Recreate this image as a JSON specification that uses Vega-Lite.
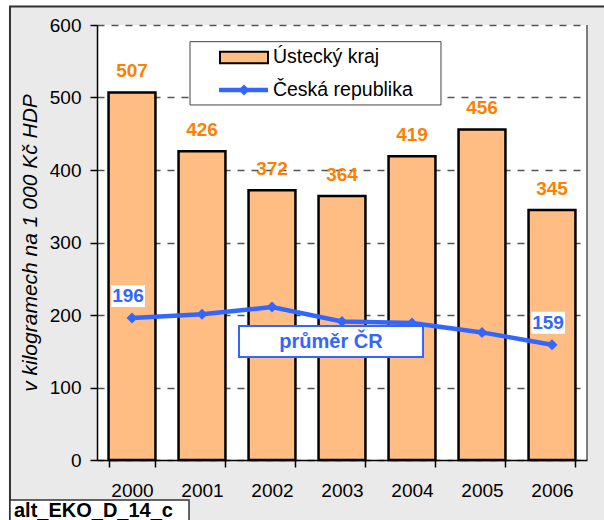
{
  "$schema": "https://vega.github.io/schema/vega-lite/v6.json",
  "width": 490,
  "height": 435,
  "autosize": {"type": "none"},
  "padding": {"left": 97, "top": 25, "right": 17, "bottom": 60},
  "background": "#EAEAEA",
  "config": {
    "font": "Liberation Sans",
    "view": {"fill": "white", "stroke": null},
    "axisY": {
      "titleFontStyle": "italic", "titleFontWeight": "normal",
      "titleFontSize": 21, "titleColor": "black", "titlePadding": 9,
      "grid": true, "gridDash": [7, 7], "gridColor": "#555555", "gridWidth": 1.3,
      "domainColor": "black", "domainWidth": 1.5,
      "tickColor": "black", "tickSize": 7, "tickWidth": 1.5,
      "labelFontSize": 19, "labelColor": "black", "labelPadding": 9
    },
    "axisX": {
      "labelAngle": 0, "domainColor": "black", "domainWidth": 1.5,
      "tickColor": "black", "tickSize": 7, "tickWidth": 1.5,
      "labelFontSize": 19, "labelColor": "black", "labelPadding": 14, "grid": false
    }
  },
  "datasets": {
    "main": [
      {"year": "2000", "kraj": 507, "cr": 196},
      {"year": "2001", "kraj": 426, "cr": 201},
      {"year": "2002", "kraj": 372, "cr": 211},
      {"year": "2003", "kraj": 364, "cr": 191},
      {"year": "2004", "kraj": 419, "cr": 189},
      {"year": "2005", "kraj": 456, "cr": 176},
      {"year": "2006", "kraj": 345, "cr": 159}
    ]
  },
  "resolve": {"scale": {"x": "independent"}},
  "layer": [
    {
      "data": {"name": "main"},
      "encoding": {
        "x": {
          "field": "year", "type": "ordinal", "title": null,
          "scale": {"paddingInner": 0.33, "paddingOuter": 0.165},
          "axis": {"tickBand": "extent"}
        }
      },
      "layer": [
        {
          "mark": {"type": "bar", "fill": "#FFBD84", "stroke": "black", "strokeWidth": 2.5},
          "encoding": {
            "y": {
              "field": "kraj", "type": "quantitative",
              "title": "v kilogramech na 1 000 Kč HDP",
              "scale": {"domain": [0, 600], "nice": false},
              "axis": {"values": [0, 100, 200, 300, 400, 500, 600]}
            }
          }
        },
        {
          "mark": {
            "type": "line", "color": "#3366FF", "strokeWidth": 4.5,
            "point": {"shape": "diamond", "size": 120, "filled": true, "color": "#3366FF"}
          },
          "encoding": {"y": {"field": "cr", "type": "quantitative", "title": "v kilogramech na 1 000 Kč HDP"}}
        },
        {
          "mark": {"type": "text", "color": "#FF8000", "fontWeight": "bold", "fontSize": 19, "baseline": "middle", "dy": -21},
          "encoding": {
            "y": {"field": "kraj", "type": "quantitative", "title": "v kilogramech na 1 000 Kč HDP"},
            "text": {"field": "kraj", "type": "quantitative"}
          }
        },
        {
          "transform": [{"filter": "datum.year == '2000' || datum.year == '2006'"}],
          "mark": {"type": "point", "shape": "M-1,-0.647H1V0.647H-1Z", "size": 1156, "filled": true, "fill": "white", "opacity": 1, "strokeWidth": 0, "xOffset": -4, "yOffset": -22},
          "encoding": {"y": {"field": "cr", "type": "quantitative", "title": "v kilogramech na 1 000 Kč HDP"}}
        },
        {
          "transform": [{"filter": "datum.year == '2000' || datum.year == '2006'"}],
          "mark": {"type": "text", "color": "#3366FF", "fontWeight": "bold", "fontSize": 19, "baseline": "middle", "dx": -4, "dy": -22},
          "encoding": {
            "y": {"field": "cr", "type": "quantitative", "title": "v kilogramech na 1 000 Kč HDP"},
            "text": {"field": "cr", "type": "quantitative"}
          }
        }
      ]
    },
    {
      "data": {"values": [{}]},
      "layer": [
        {
          "mark": {"type": "rect", "fill": "white", "clip": false},
          "encoding": {
            "x": {"datum": -0.25, "type": "quantitative", "scale": {"domain": [0, 1], "nice": false, "zero": false}, "axis": null},
            "x2": {"datum": -0.1796},
            "y": {"datum": -100, "type": "quantitative", "title": "v kilogramech na 1 000 Kč HDP"},
            "y2": {"datum": 660}
          }
        },
        {
          "mark": {"type": "rect", "fill": "white", "clip": false},
          "encoding": {
            "x": {"datum": -0.25, "type": "quantitative", "axis": null},
            "x2": {"datum": 1.1},
            "y": {"datum": 627, "type": "quantitative", "title": "v kilogramech na 1 000 Kč HDP"},
            "y2": {"datum": 660}
          }
        },
        {
          "mark": {"type": "rect", "fillOpacity": 0, "stroke": "#333333", "strokeWidth": 2, "clip": false},
          "encoding": {
            "x": {"datum": -0.1776, "type": "quantitative", "axis": null},
            "x2": {"datum": 1.1},
            "y": {"datum": -100, "type": "quantitative", "title": "v kilogramech na 1 000 Kč HDP"},
            "y2": {"datum": 625.5}
          }
        },
        {
          "mark": {"type": "rule", "color": "#555555", "strokeWidth": 1.5, "clip": false},
          "encoding": {
            "x": {"datum": 1, "type": "quantitative", "axis": null},
            "y": {"datum": 0, "type": "quantitative", "title": "v kilogramech na 1 000 Kč HDP"},
            "y2": {"datum": 600}
          }
        },
        {
          "mark": {"type": "rect", "fill": "white", "stroke": "#444444", "strokeWidth": 1, "clip": false},
          "encoding": {
            "x": {"datum": 0.1898, "type": "quantitative", "axis": null},
            "x2": {"datum": 0.702},
            "y": {"datum": 489.7, "type": "quantitative", "title": "v kilogramech na 1 000 Kč HDP"},
            "y2": {"datum": 577}
          }
        },
        {
          "mark": {"type": "rect", "fill": "#FFBD84", "stroke": "black", "strokeWidth": 2, "clip": false},
          "encoding": {
            "x": {"datum": 0.251, "type": "quantitative", "axis": null},
            "x2": {"datum": 0.349},
            "y": {"datum": 547.2, "type": "quantitative", "title": "v kilogramech na 1 000 Kč HDP"},
            "y2": {"datum": 563.2}
          }
        },
        {
          "mark": {"type": "rule", "color": "#3366FF", "strokeWidth": 4.5, "clip": false},
          "encoding": {
            "x": {"datum": 0.249, "type": "quantitative", "axis": null},
            "x2": {"datum": 0.349},
            "y": {"datum": 510.3, "type": "quantitative", "title": "v kilogramech na 1 000 Kč HDP"}
          }
        },
        {
          "mark": {"type": "point", "shape": "diamond", "size": 120, "filled": true, "color": "#3366FF", "opacity": 1, "clip": false},
          "encoding": {
            "x": {"datum": 0.3, "type": "quantitative", "axis": null},
            "y": {"datum": 510.3, "type": "quantitative", "title": "v kilogramech na 1 000 Kč HDP"}
          }
        },
        {
          "mark": {"type": "text", "text": "Ústecký kraj", "align": "left", "baseline": "middle", "fontSize": 19.5, "color": "black", "clip": false},
          "encoding": {
            "x": {"datum": 0.359, "type": "quantitative", "axis": null},
            "y": {"datum": 555.9, "type": "quantitative", "title": "v kilogramech na 1 000 Kč HDP"}
          }
        },
        {
          "mark": {"type": "text", "text": "Česká republika", "align": "left", "baseline": "middle", "fontSize": 19.5, "color": "black", "clip": false},
          "encoding": {
            "x": {"datum": 0.359, "type": "quantitative", "axis": null},
            "y": {"datum": 510.3, "type": "quantitative", "title": "v kilogramech na 1 000 Kč HDP"}
          }
        },
        {
          "mark": {"type": "rect", "fill": "white", "stroke": "#3366FF", "strokeWidth": 2, "clip": false},
          "encoding": {
            "x": {"datum": 0.2898, "type": "quantitative", "axis": null},
            "x2": {"datum": 0.6653},
            "y": {"datum": 142.1, "type": "quantitative", "title": "v kilogramech na 1 000 Kč HDP"},
            "y2": {"datum": 184.8}
          }
        },
        {
          "mark": {"type": "text", "text": "průměr ČR", "align": "center", "baseline": "middle", "fontSize": 20, "fontWeight": "bold", "color": "#3366FF", "clip": false},
          "encoding": {
            "x": {"datum": 0.4776, "type": "quantitative", "axis": null},
            "y": {"datum": 163.4, "type": "quantitative", "title": "v kilogramech na 1 000 Kč HDP"}
          }
        },
        {
          "mark": {"type": "rect", "fill": "white", "stroke": "#333333", "strokeWidth": 1.5, "clip": false},
          "encoding": {
            "x": {"datum": -0.1776, "type": "quantitative", "axis": null},
            "x2": {"datum": 0.1878},
            "y": {"datum": -100, "type": "quantitative", "title": "v kilogramech na 1 000 Kč HDP"},
            "y2": {"datum": -55.2}
          }
        },
        {
          "mark": {"type": "text", "text": "alt_EKO_D_14_c", "align": "left", "baseline": "middle", "fontSize": 20, "fontWeight": "bold", "color": "black", "clip": false},
          "encoding": {
            "x": {"datum": -0.1694, "type": "quantitative", "axis": null},
            "y": {"datum": -70.3, "type": "quantitative", "title": "v kilogramech na 1 000 Kč HDP"}
          }
        }
      ]
    }
  ]
}
